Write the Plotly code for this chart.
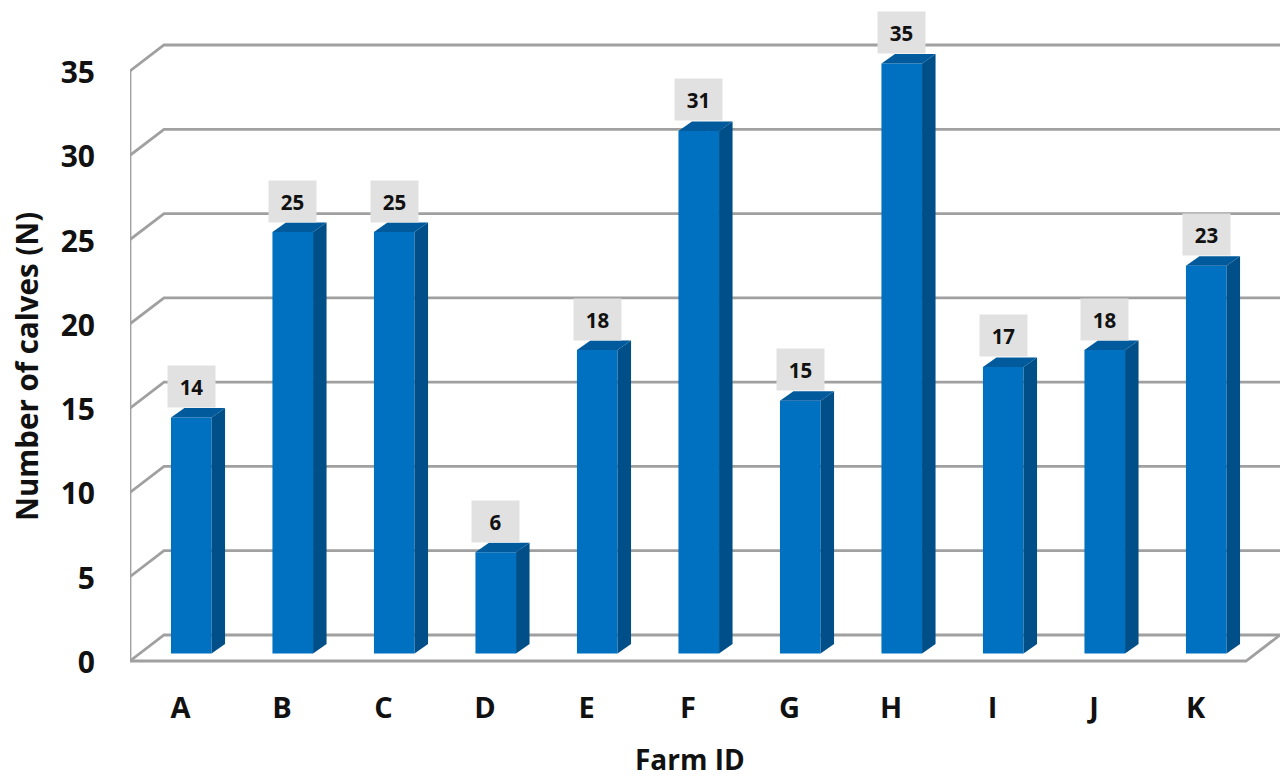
import plotly.graph_objects as go

categories = ["A", "B", "C", "D", "E", "F", "G", "H", "I", "J", "K"]
calves = [14, 25, 25, 6, 18, 31, 15, 35, 17, 18, 23]
y_ticks = [0, 5, 10, 15, 20, 25, 30, 35]

W, H = 1280, 778
ML, MB = 130, 107
AXIS_BOTTOM_PX = 661
PX_CAT = 101.5
PX_UNIT = 16.857
FONT = "Open Sans"
INK = "#111111"
GRID = "#A0A0A0"
FRONT, SIDE, TOP = "#0070C0", "#004F88", "#005A9C"


def ux(px):
    return px / PX_CAT


def uy(px):
    return px / PX_UNIT


positions = list(range(len(categories)))
label_x0 = 180.5
bar_x0 = 191.25
floor_rise = 7.5
wall_dx, wall_dy = ux(34), uy(26)
bar_dx, bar_dy = ux(13.5), uy(9.5)
half = 0.2
plot_bottom = H - MB

x_range = [(ML - label_x0) / PX_CAT, (W - label_x0) / PX_CAT]
y_range = [-uy(plot_bottom - AXIS_BOTTOM_PX), AXIS_BOTTOM_PX / PX_UNIT]
x2_range = [(ML - bar_x0) / PX_CAT, (W - bar_x0) / PX_CAT]
y2_range = [-uy(plot_bottom - AXIS_BOTTOM_PX + floor_rise), (AXIS_BOTTOM_PX - floor_rise) / PX_UNIT]

fig = go.Figure()


def line(xs, ys):
    fig.add_trace(go.Scatter(x=xs, y=ys, mode="lines", line=dict(color=GRID, width=2.8),
                             cliponaxis=False, hoverinfo="skip", xaxis="x", yaxis="y"))


x_left, x_right = x_range
for t in y_ticks:
    line([x_left, x_left + wall_dx, x_right], [t, t + wall_dy, t + wall_dy])
line([x_left, x_left], [0, y_ticks[-1]])
line([x_left, x_right - wall_dx, x_right], [0, 0, wall_dy])

# Bar fronts
fig.add_trace(go.Bar(x=positions, y=calves, width=2 * half, marker=dict(color=FRONT, line=dict(width=0)),
                     xaxis="x2", yaxis="y2", hovertemplate="%{y}<extra></extra>"))

# Bar sides and tops
for p, v in zip(positions, calves):
    fig.add_trace(go.Scatter(
        x=[p + half, p + half + bar_dx, p + half + bar_dx, p + half, p + half],
        y=[0, bar_dy, v + bar_dy, v, 0],
        mode="lines", fill="toself", fillcolor=SIDE, line=dict(width=0),
        hoverinfo="skip", xaxis="x2", yaxis="y2"))
    fig.add_trace(go.Scatter(
        x=[p - half, p - half + bar_dx, p + half + bar_dx, p + half, p - half],
        y=[v, v + bar_dy, v + bar_dy, v, v],
        mode="lines", fill="toself", fillcolor=TOP, line=dict(width=0),
        hoverinfo="skip", xaxis="x2", yaxis="y2"))

annotations = [
    dict(x=p, y=v, xref="x2", yref="y2", text=f"<b>{v}</b>", showarrow=False, yshift=31,
         width=45, height=39, bgcolor="#E1E1E1", align="center", valign="middle",
         font=dict(family=FONT, size=20.5, color=INK))
    for p, v in zip(positions, calves)
]
annotations += [
    dict(text="<b>Farm ID</b>", xref="paper", yref="paper", x=(690 - ML) / (W - ML),
         y=-(759 - plot_bottom) / plot_bottom, xanchor="center", yanchor="middle",
         showarrow=False, font=dict(family=FONT, size=28, color=INK)),
    dict(text="<b>Number of calves (N)</b>", xref="paper", yref="paper", x=(26 - ML) / (W - ML),
         y=1 - 367 / plot_bottom, xanchor="center", yanchor="middle", textangle=-90,
         showarrow=False, font=dict(family=FONT, size=29.5, color=INK)),
]

fig.update_layout(
    width=W, height=H, autosize=False,
    margin=dict(l=ML, r=0, t=0, b=MB, pad=0),
    paper_bgcolor="white", plot_bgcolor="white",
    showlegend=False, annotations=annotations,
    xaxis=dict(range=x_range, tickmode="array", tickvals=positions, ticktext=categories,
               showgrid=False, zeroline=False, showline=False, ticks="",
               ticklabelstandoff=17,
               tickfont=dict(family=FONT, size=29, color=INK, weight="bold")),
    yaxis=dict(range=y_range, tickmode="array",
               tickvals=[t - uy(1.5) for t in y_ticks], ticktext=[str(t) for t in y_ticks],
               showgrid=False, zeroline=False, showline=False, ticks="",
               ticklabelstandoff=34,
               tickfont=dict(family=FONT, size=30, color=INK, weight="bold")),
    xaxis2=dict(range=x2_range, overlaying="x", visible=False, fixedrange=True),
    yaxis2=dict(range=y2_range, overlaying="y", visible=False, fixedrange=True),
)

fig.write_html("out.html", config={"displayModeBar": False}, post_script="document.body.style.margin='0';")
